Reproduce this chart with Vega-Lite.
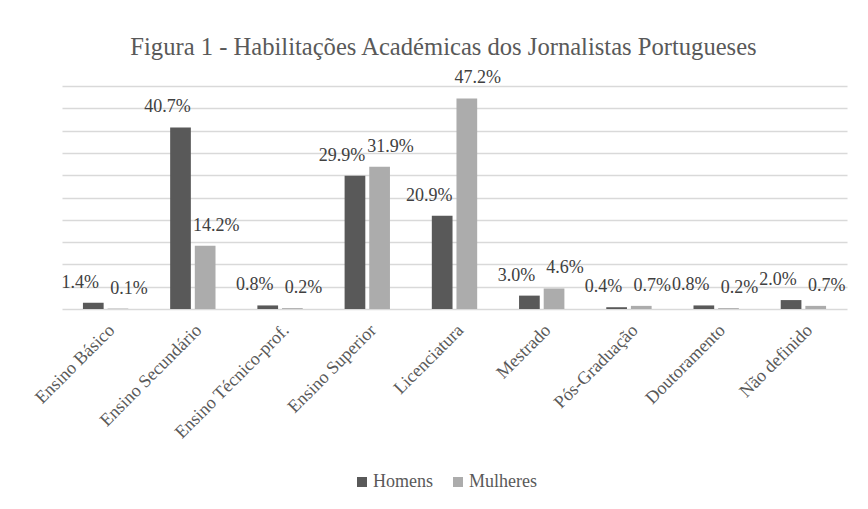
{
  "$schema": "https://vega.github.io/schema/vega-lite/v6.json",
  "autosize": {"type": "none"},
  "padding": {"left": 62, "top": 86, "right": 21, "bottom": 200},
  "width": 785,
  "height": 223,
  "background": "white",
  "title": {
    "text": "Figura 1 - Habilitações Académicas dos Jornalistas Portugueses",
    "font": "Liberation Serif",
    "fontSize": 24.6,
    "fontWeight": "normal",
    "color": "#595959",
    "anchor": "middle",
    "dx": -11,
    "offset": 9
  },
  "data": {
    "values": [
      {"Habilitação": "Ensino Básico", "Sexo": "Homens", "Valor": 0.014},
      {"Habilitação": "Ensino Básico", "Sexo": "Mulheres", "Valor": 0.001},
      {"Habilitação": "Ensino Secundário", "Sexo": "Homens", "Valor": 0.407},
      {"Habilitação": "Ensino Secundário", "Sexo": "Mulheres", "Valor": 0.142},
      {"Habilitação": "Ensino Técnico-prof.", "Sexo": "Homens", "Valor": 0.008},
      {"Habilitação": "Ensino Técnico-prof.", "Sexo": "Mulheres", "Valor": 0.002},
      {"Habilitação": "Ensino Superior", "Sexo": "Homens", "Valor": 0.299},
      {"Habilitação": "Ensino Superior", "Sexo": "Mulheres", "Valor": 0.319},
      {"Habilitação": "Licenciatura", "Sexo": "Homens", "Valor": 0.209},
      {"Habilitação": "Licenciatura", "Sexo": "Mulheres", "Valor": 0.472},
      {"Habilitação": "Mestrado", "Sexo": "Homens", "Valor": 0.030},
      {"Habilitação": "Mestrado", "Sexo": "Mulheres", "Valor": 0.046},
      {"Habilitação": "Pós-Graduação", "Sexo": "Homens", "Valor": 0.004},
      {"Habilitação": "Pós-Graduação", "Sexo": "Mulheres", "Valor": 0.007},
      {"Habilitação": "Doutoramento", "Sexo": "Homens", "Valor": 0.008},
      {"Habilitação": "Doutoramento", "Sexo": "Mulheres", "Valor": 0.002},
      {"Habilitação": "Não definido", "Sexo": "Homens", "Valor": 0.020},
      {"Habilitação": "Não definido", "Sexo": "Mulheres", "Valor": 0.007}
    ]
  },
  "encoding": {
    "x": {
      "field": "Habilitação",
      "type": "nominal",
      "sort": null,
      "scale": {"paddingInner": 0.48, "paddingOuter": 0.24},
      "axis": {
        "title": null,
        "labelAngle": -45,
        "labelFont": "Liberation Serif",
        "labelFontSize": 18,
        "labelColor": "#595959",
        "labelPadding": 12,
        "ticks": false,
        "domainColor": "#d9d9d9",
        "domainWidth": 1.5,
        "grid": false
      }
    },
    "xOffset": {
      "field": "Sexo",
      "type": "nominal",
      "scale": {"paddingInner": 0.16, "paddingOuter": 0}
    },
    "y": {
      "field": "Valor",
      "type": "quantitative",
      "scale": {"domain": [0, 0.5], "nice": false},
      "axis": {
        "title": null,
        "labels": false,
        "ticks": false,
        "domain": false,
        "values": [0.05, 0.1, 0.15, 0.2, 0.25, 0.3, 0.35, 0.4, 0.45, 0.5],
        "gridColor": "#d9d9d9",
        "gridWidth": 1.5
      }
    }
  },
  "layer": [
    {
      "mark": {"type": "bar"},
      "encoding": {
        "color": {
          "field": "Sexo",
          "type": "nominal",
          "scale": {"domain": ["Homens", "Mulheres"], "range": ["#595959", "#acacac"]},
          "legend": {
            "title": null,
            "orient": "none",
            "legendX": 291,
            "legendY": 387,
            "padding": 0,
            "direction": "horizontal",
            "symbolType": "square",
            "symbolSize": 100,
            "symbolStrokeWidth": 0,
            "labelOffset": 2,
            "labelFont": "Liberation Serif",
            "labelFontSize": 18,
            "labelColor": "#595959",
            "columnPadding": 16
          }
        }
      }
    },
    {
      "transform": [{"filter": "datum.Sexo === 'Homens'"}],
      "mark": {
        "type": "text",
        "baseline": "middle",
        "dy": -20,
        "dx": -13,
        "font": "Liberation Serif",
        "fontSize": 18,
        "color": "#404040"
      },
      "encoding": {
        "text": {"field": "Valor", "type": "quantitative", "format": ".1%"}
      }
    },
    {
      "transform": [{"filter": "datum.Sexo === 'Mulheres'"}],
      "mark": {
        "type": "text",
        "baseline": "middle",
        "dy": -20,
        "dx": 11,
        "font": "Liberation Serif",
        "fontSize": 18,
        "color": "#404040"
      },
      "encoding": {
        "text": {"field": "Valor", "type": "quantitative", "format": ".1%"}
      }
    }
  ],
  "config": {
    "font": "Liberation Serif",
    "view": {"stroke": null}
  }
}
